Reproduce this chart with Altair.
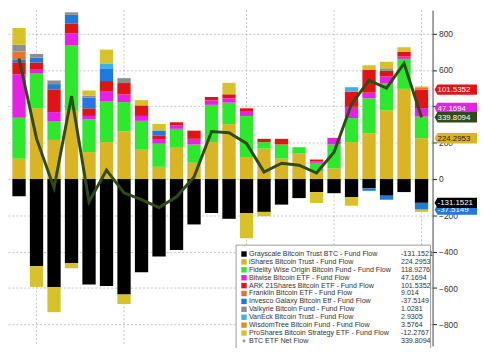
import altair as alt
import pandas as pd

# ---------------- data ----------------
DAYS = list(range(24))

FUNDS = [
    "Grayscale Bitcoin Trust BTC - Fund Flow",
    "iShares Bitcoin Trust - Fund Flow",
    "Fidelity Wise Origin Bitcoin Fund - Fund Flow",
    "Bitwise Bitcoin ETF - Fund Flow",
    "ARK 21Shares Bitcoin ETF - Fund Flow",
    "Franklin Bitcoin ETF - Fund Flow",
    "Invesco Galaxy Bitcoin Etf - Fund Flow",
    "Valkyrie Bitcoin Fund - Fund Flow",
    "VanEck Bitcoin Trust - Fund Flow",
    "WisdomTree Bitcoin Fund - Fund Flow",
    "ProShares Bitcoin Strategy ETF - Fund Flow",
]
NET_NAME = "BTC ETF Net Flow"

grayscale = [-95, -480, -594, -462, -580, -589, -636, -513, -426, -391, -250, -187,
             -219, -187, -181, -141, -105, -72, -78, -100, -51, -92, -72, -131.1521]
ishares = [112, 389, 215, 375, 148, 203, 262, 161, 67, 176, 89, 203,
           302, 121, 167, 112, 139, 40, 58, 203, 252, 378, 496, 224.2953]
fidelity = [225, 194, 101, 362, 181, 223, 161, 159, 127, 100, 101, 205,
            118, 226, 36, 78, 36, 49, 132, 132, 192, 150, 165, 118.9276]
bitwise = [240, 18, 52, 63, 18, 58, 42, 27, 22, 18, 31, 25,
           24, 27, 0, 0, 0, 9, 36, 62, 31, 36, 13, 47.1694]
ark = [65, 40, 123, 54, 42, 55, 63, 58, 24, 18, 45, 18,
       22, 15, 18, 31, 0, 9, 0, 83, 127, 31, 27, 101.5352]
franklin = [43, 0, 0, 0, 0, 0, 0, 0, 0, 0, 0, 0,
            0, 0, 0, 0, 0, 0, 0, 0, 0, 0, 0, 9.014]
invesco = [16, 27, 31, 49, 58, 70, 0, 0, 27, 0, 0, 0,
           0, 0, 0, 0, 0, 0, 0, 0, -14, -22, 0, -37.5149]
valkyrie = [38, 20, 20, 14, 12, 0, 27, 0, 0, 0, 0, 0,
            0, 0, 0, 0, 0, 0, 0, 0, 0, 14, 0, 1.0281]
vaneck = [0, 0, 0, 0, 0, 27, 0, 0, 0, 0, 0, 0,
          0, 0, 0, 0, 0, 0, 0, 25, 0, 0, 0, 2.9305]
wisdomtree = [0, 0, 0, 0, 0, 0, 0, 0, 0, 0, 0, 0,
              0, 0, 0, 0, 0, 0, 0, 0, 0, 0, 0, 3.5764]
proshares = [92, -114, -139, -29, 28, 76, -52, 29, 36, 0, 0, 0,
             63, -139, -24, 0, 0, -60, 0, -47, 24, 36, 24, -12.2767]
net_flow = [663, 222, -49, 456, -125, 49, -76, -114, -157, -98, 11, 261,
            255, 196, 38, 87, 76, 33, 147, 412, 543, 500, 636, 339.8094]

LAST_LABELS = ["-131.1521", "224.2953", "118.9276", "47.1694", "101.5352", "9.014",
               "-37.5149", "1.0281", "2.9305", "3.5764", "-12.2767", "339.8094"]

GRID_DAYS = [1, 6, 13, 18, 23]

# ---------------- styles ----------------
COLORS = ["#000000", "#d9b524", "#2ee82e", "#e421e4", "#e01414", "#e8742c",
          "#2079dc", "#8e8e8e", "#38b4ea", "#e0921c", "#d8c22a", "#2f4b1a"]
STACK_ORDER = [0, 1, 2, 3, 4, 6, 5, 7, 8, 9, 10]  # rank of each fund in the stack

W, H = 430, 340
RIGHT = 45
Y_DOMAIN = [-918, 929]
FONT = "Liberation Sans"

series_vals = [grayscale, ishares, fidelity, bitwise, ark, franklin, invesco,
               valkyrie, vaneck, wisdomtree, proshares]
rows = []
for fi, (name, vals) in enumerate(zip(FUNDS, series_vals)):
    for d, v in zip(DAYS, vals):
        if v != 0:
            rows.append({"d": d, "series": name, "v": v, "ord": STACK_ORDER[fi]})
bars_df = pd.DataFrame(rows)
net_df = pd.DataFrame({"d": DAYS, "net": net_flow})
grid_df = pd.DataFrame({"d": GRID_DAYS})

ALL_NAMES = FUNDS + [NET_NAME]
color_scale = alt.Scale(domain=ALL_NAMES, range=COLORS)

x_scale = alt.Scale(domain=DAYS, paddingInner=0.24, paddingOuter=0.25)
y_scale = alt.Scale(domain=Y_DOMAIN, nice=False, zero=False)

grid = alt.Chart(grid_df).mark_rule(color="#b5b5b5", strokeDash=[2, 2], strokeWidth=0.8).encode(
    x=alt.X("d:O", scale=x_scale, axis=None)
)

bars = alt.Chart(bars_df).mark_bar().encode(
    x=alt.X("d:O", scale=x_scale, axis=None),
    y=alt.Y("sum(v):Q", scale=y_scale, stack="zero",
            axis=alt.Axis(orient="right", values=list(range(-800, 801, 200)), grid=True,
                          gridDash=[2, 2], gridColor="#b5b5b5", gridWidth=0.8,
                          tickSize=4, tickColor="#222", domainColor="#444",
                          labelFontSize=8.5, labelColor="#333", labelFont=FONT,
                          labelPadding=2, labelOverlap=False, title=None)),
    color=alt.Color("series:N", scale=color_scale, legend=None),
    order=alt.Order("ord:Q"),
)

line = alt.Chart(net_df).mark_line(color="#2f4b1a", strokeWidth=3).encode(
    x=alt.X("d:O", scale=x_scale, axis=None),
    y=alt.Y("net:Q", scale=y_scale),
)

# ---------------- right-hand value tags ----------------
last = {name: vals[-1] for name, vals in zip(FUNDS, series_vals)}
tag_rows = [
    (FUNDS[4], last[FUNDS[1]] + last[FUNDS[2]] + last[FUNDS[3]] + last[FUNDS[4]], LAST_LABELS[4]),
    (FUNDS[1], last[FUNDS[1]], LAST_LABELS[1]),
    (FUNDS[6], last[FUNDS[0]] + last[FUNDS[6]], LAST_LABELS[6]),
    (FUNDS[0], last[FUNDS[0]], LAST_LABELS[0]),
    (FUNDS[3], last[FUNDS[1]] + last[FUNDS[2]] + last[FUNDS[3]], LAST_LABELS[3]),
    (NET_NAME, net_flow[-1], LAST_LABELS[11]),
]
tags_df = pd.DataFrame([{"k": i, "series": s, "pos": p, "lab": l} for i, (s, p, l) in enumerate(tag_rows)])
TAG_W = RIGHT - 2
TAG_HALF = 10.5 / TAG_W
TAG_PATH = f"M -1 0 L -0.86 -{TAG_HALF:.3f} L 1 -{TAG_HALF:.3f} L 1 {TAG_HALF:.3f} L -0.86 {TAG_HALF:.3f} Z"

tag_layers = []
for i in range(len(tag_rows)):
    base = alt.Chart(tags_df).transform_filter(f"datum.k == {i}")
    box = base.mark_point(shape=TAG_PATH, filled=True, opacity=1, size=TAG_W * TAG_W).encode(
        x=alt.value(W + 2 + TAG_W / 2),
        y=alt.Y("pos:Q", scale=y_scale),
        color=alt.Color("series:N", scale=color_scale, legend=None),
    )
    txt = base.mark_text(align="left", baseline="middle", fontSize=8, font=FONT, dy=0.5).encode(
        x=alt.value(W + 5),
        y=alt.Y("pos:Q", scale=y_scale),
        text="lab:N",
        color=alt.condition(f"datum.series == '{FUNDS[1]}'", alt.value("#222"), alt.value("#ffffff")),
    )
    tag_layers += [box, txt]

# ---------------- legend box ----------------
leg_df = pd.DataFrame({"row": list(range(len(ALL_NAMES))), "series": ALL_NAMES, "val": LAST_LABELS})
LEG_X0, LEG_X1, LEG_Y0 = 231, 428, 238

leg_box = alt.Chart(pd.DataFrame({"a": [0]})).mark_rect(
    fill="white", stroke="#9a9a9a", strokeWidth=1).encode(
    x=alt.value(LEG_X0), x2=alt.value(LEG_X1), y=alt.value(LEG_Y0), y2=alt.value(H + 20)
)
leg_base = alt.Chart(leg_df).transform_calculate(ly="247 + 8 * datum.row")
leg_sq = leg_base.transform_filter("datum.row < 11").mark_square(size=30, filled=True, opacity=1).encode(
    x=alt.value(239), y=alt.Y("ly:Q", scale=None),
    color=alt.Color("series:N", scale=color_scale, legend=None),
)
leg_net = leg_base.transform_filter("datum.row == 11").mark_point(
    shape="diamond", size=14, filled=True, color="#999999", opacity=1).encode(
    x=alt.value(239), y=alt.Y("ly:Q", scale=None))
leg_txt = leg_base.mark_text(align="left", baseline="middle", fontSize=7.2, font=FONT, color="#333").encode(
    x=alt.value(244), y=alt.Y("ly:Q", scale=None), text="series:N")
leg_val = leg_base.mark_text(align="left", baseline="middle", fontSize=7.2, font=FONT, color="#333").encode(
    x=alt.value(398), y=alt.Y("ly:Q", scale=None), text="val:N")

chart = alt.layer(
    grid, bars, line, *tag_layers, leg_box, leg_sq, leg_net, leg_txt, leg_val
).properties(
    width=W, height=H,
    autosize=alt.AutoSizeParams(type="none"),
    padding={"left": 0, "top": 0, "right": RIGHT, "bottom": 0},
    background="white",
).configure_view(stroke=None)

chart.save("out.html", embed_options={"renderer": "svg", "actions": False})
